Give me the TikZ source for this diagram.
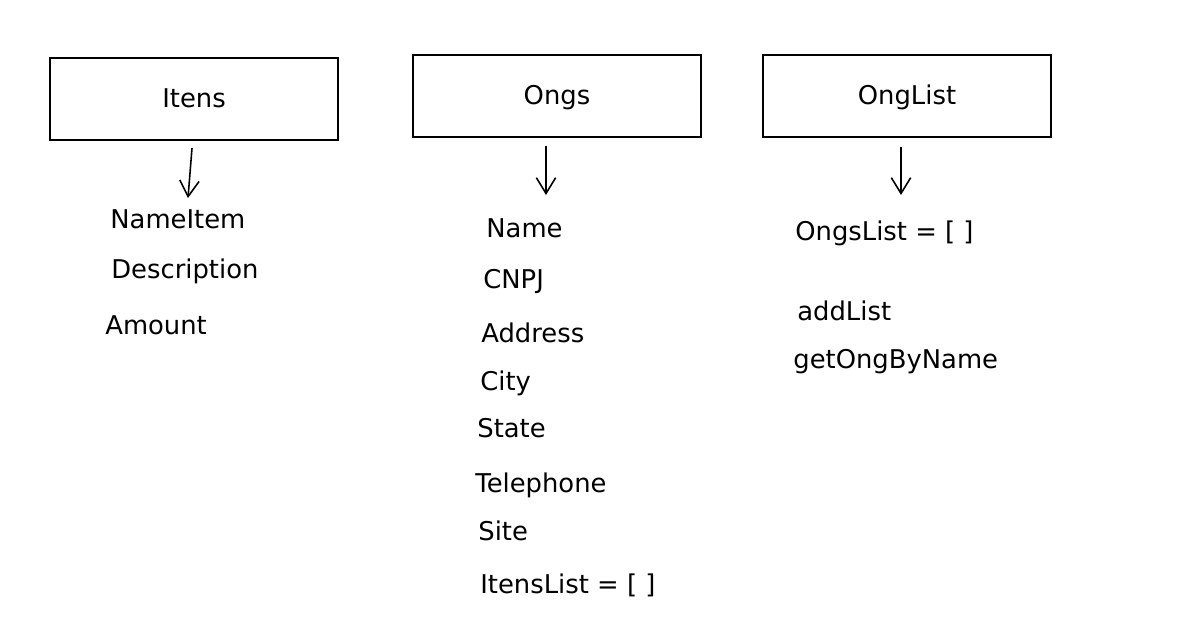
\documentclass[tikz,border=0pt]{standalone}
\usepackage{fontspec}
\setmainfont{DejaVu Sans}
\usetikzlibrary{arrows.meta}
\begin{document}
\begin{tikzpicture}[x=0.02cm,y=-0.02cm,
	classbox/.style={draw,line width=1.3pt,minimum width=5.76cm,minimum height=1.64cm,text height=10.2pt,text depth=0pt,font=\fontsize{14.7}{17}\selectfont},
	field/.style={anchor=base west,inner sep=0pt,font=\fontsize{14.7}{17}\selectfont},
	arr/.style={line width=0.9pt,-{Straight Barb[length=9pt,width=11pt,line width=0.9pt]}}]
		
		\useasboundingbox (0,0) rectangle (1185,642);
		%boxes
		\node[classbox](itens) at (194,99) {Itens};
		\node[classbox](ongs) at (557,96) {Ongs};
		\node[classbox](onglist) at (907,96) {OngList};
		%Itens
		\node[field](nameitem) at (110,228) {NameItem};
		\node[field](description) at (111,278) {Description};
		\node[field](amount) at (105,334) {Amount};
		%Ongs
		\node[field](name) at (486,237) {Name};
		\node[field](cnpj) at (483,288) {CNPJ};
		\node[field](address) at (481,342) {Address};
		\node[field](city) at (480,390) {City};
		\node[field](state) at (477,437) {State};
		\node[field](telephone) at (475,492) {Telephone};
		\node[field](site) at (478,540) {Site};
		\node[field](itenslist) at (480,593) {ItensList = [ ]};
		%OngList
		\node[field](ongslist) at (795,240) {OngsList = [ ]};
		\node[field](addlist) at (797,320) {addList};
		\node[field](getong) at (793,368) {getOngByName};
		%arrows
		\coordinate (itensend) at (188,198);
		\coordinate (ongsend) at (546,195);
		\coordinate (onglistend) at (901,195);
		\draw[arr] ([xshift=-0.04cm,yshift=-0.14cm]itens.south) -- (itensend);
		\draw[arr] ([xshift=-0.22cm,yshift=-0.16cm]ongs.south) -- (ongsend);
		\draw[arr] ([xshift=-0.12cm,yshift=-0.18cm]onglist.south) -- (onglistend);
		\end{tikzpicture}
\end{document}
